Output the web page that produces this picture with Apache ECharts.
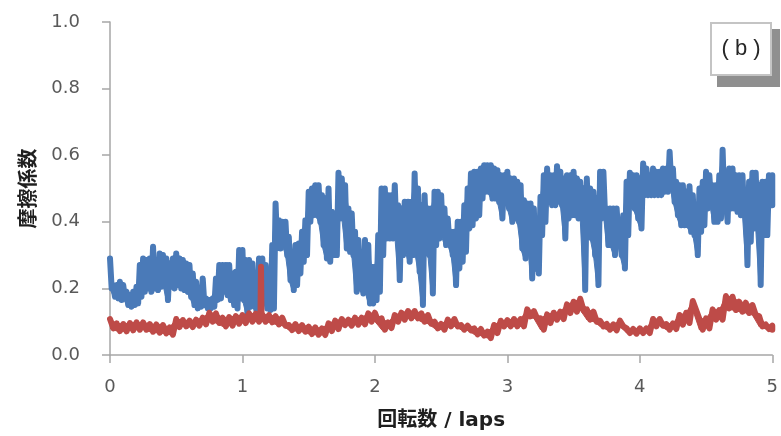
<!DOCTYPE html>
<html>
<head>
<meta charset="utf-8">
<script src="https://cdn.jsdelivr.net/npm/echarts@6/dist/echarts.min.js"></script>
<style>
html,body{margin:0;padding:0;background:#fff;}
#chart{width:781px;height:436px;}
</style>
</head>
<body>
<div id="chart"></div>
<script>
// axis ticks and texts
var xTicks = [0, 1, 2, 3, 4, 5];
var yTicks = [0.0, 0.2, 0.4, 0.6, 0.8, 1.0];
var xAxisName = '回転数 / laps';
var yAxisName = '摩擦係数';
var panelLabel = '( b )';

// blue trace: the signal oscillates fast; its upper and lower excursions
// were read every 0.025 laps (0 .. 5)
var blueStep = 0.025;
var blueUpper = [
  0.29,0.21,0.21,0.22,0.21,0.19,0.18,0.19,0.205,0.27,
  0.29,0.285,0.29,0.325,0.285,0.305,0.30,0.29,0.275,0.29,
  0.305,0.29,0.285,0.275,0.27,0.245,0.22,0.195,0.23,0.17,
  0.165,0.17,0.23,0.27,0.27,0.27,0.27,0.245,0.25,0.315,
  0.315,
  0.285,0.285,0.275,0.245,0.29,0.29,0.27,0.23,0.33,0.455,
  0.405,0.40,0.40,0.355,0.295,0.33,0.335,0.37,0.405,0.49,
  0.50,0.51,0.51,0.48,0.47,0.50,0.43,0.395,0.547,0.53,
  0.51,0.44,0.425,0.37,0.345,0.305,0.345,0.33,0.265,0.265,
  0.36,0.50,0.50,0.48,0.48,0.51,0.45,0.44,0.46,0.46,
  0.46,0.545,0.50,0.45,0.48,0.44,0.44,0.49,0.49,0.48,
  0.44,0.41,0.37,0.37,0.40,0.40,0.45,0.50,0.545,0.55,
  0.55,0.56,0.57,0.57,0.57,0.56,0.555,0.54,0.54,0.55,
  0.53,0.53,0.52,0.51,0.465,0.455,0.455,0.44,0.395,0.475,
  0.54,0.56,0.54,0.54,0.567,0.55,0.53,0.54,0.54,0.55,
  0.53,0.52,0.50,0.53,0.50,0.49,0.47,0.55,0.55,0.44,
  0.44,0.44,0.44,0.395,0.42,0.52,0.547,0.54,0.54,0.53,
  0.575,0.56,0.54,0.56,0.55,0.55,0.56,0.56,0.61,0.56,
  0.52,0.51,0.51,0.49,0.507,0.48,0.44,0.50,0.52,0.55,
  0.54,0.51,0.51,0.54,0.616,0.52,0.56,0.56,0.54,0.54,
  0.54,0.49,0.52,0.547,0.547,0.51,0.52,0.52,0.54,0.54
];
var blueLower = [
  0.20,0.175,0.17,0.165,0.17,0.15,0.145,0.15,0.155,0.175,
  0.19,0.20,0.19,0.20,0.195,0.205,0.21,0.165,0.205,0.20,
  0.21,0.20,0.195,0.19,0.175,0.15,0.14,0.145,0.15,0.14,
  0.14,0.145,0.165,0.17,0.19,0.18,0.165,0.15,0.14,0.17,
  0.165,
  0.125,0.145,0.155,0.11,0.12,0.17,0.14,0.135,0.14,0.32,
  0.32,0.33,0.30,0.225,0.195,0.21,0.245,0.28,0.30,0.40,
  0.42,0.42,0.40,0.33,0.29,0.28,0.30,0.30,0.41,0.41,
  0.32,0.31,0.30,0.19,0.20,0.185,0.19,0.155,0.155,0.165,
  0.19,0.30,0.35,0.35,0.35,0.36,0.225,0.30,0.32,0.28,
  0.30,0.31,0.25,0.15,0.34,0.30,0.185,0.33,0.35,0.36,
  0.33,0.33,0.30,0.21,0.26,0.28,0.31,0.38,0.39,0.41,
  0.42,0.47,0.49,0.49,0.47,0.47,0.46,0.41,0.46,0.44,
  0.40,0.41,0.40,0.32,0.29,0.35,0.23,0.26,0.245,0.36,
  0.40,0.46,0.45,0.45,0.46,0.45,0.35,0.41,0.42,0.42,
  0.41,0.41,0.195,0.36,0.35,0.30,0.21,0.41,0.42,0.33,
  0.33,0.30,0.36,0.30,0.26,0.36,0.45,0.44,0.41,0.38,
  0.48,0.48,0.48,0.48,0.48,0.48,0.49,0.49,0.51,0.46,
  0.42,0.39,0.39,0.39,0.37,0.36,0.30,0.37,0.39,0.44,
  0.46,0.40,0.40,0.41,0.46,0.40,0.44,0.44,0.43,0.42,
  0.42,0.27,0.34,0.38,0.38,0.21,0.36,0.36,0.45,0.45
];

// red trace: upper and lower excursions read every 0.05 laps (0 .. 5)
var redStep = 0.05;
var redUpper = [
  0.108,0.095,0.093,0.096,0.098,0.098,0.093,0.092,0.090,0.083,
  0.108,0.105,0.103,0.106,0.112,0.127,0.125,0.112,0.114,0.117,
  0.120,0.125,0.124,0.122,0.120,0.117,0.112,0.090,0.093,0.090,
  0.085,0.083,0.080,0.095,0.103,0.108,0.106,0.112,0.112,0.125,
  0.127,0.110,0.098,0.120,0.127,0.132,0.132,0.125,0.120,0.100,
  0.093,0.106,0.108,0.090,0.088,0.080,0.078,0.070,0.090,0.103,
  0.105,0.108,0.108,0.137,0.132,0.110,0.122,0.127,0.130,0.152,
  0.160,0.169,0.137,0.130,0.103,0.093,0.092,0.103,0.080,0.078,
  0.080,0.080,0.108,0.108,0.093,0.095,0.120,0.127,0.162,0.108,
  0.110,0.137,0.135,0.177,0.175,0.160,0.157,0.150,0.117,0.092,
  0.088
];
var redLower = [
  0.080,0.072,0.071,0.074,0.076,0.076,0.070,0.067,0.065,0.061,
  0.084,0.086,0.084,0.088,0.092,0.100,0.096,0.086,0.088,0.094,
  0.096,0.100,0.100,0.100,0.098,0.092,0.088,0.075,0.072,0.070,
  0.063,0.061,0.060,0.072,0.078,0.090,0.088,0.091,0.092,0.100,
  0.101,0.076,0.081,0.100,0.106,0.110,0.110,0.100,0.094,0.080,
  0.076,0.086,0.086,0.076,0.074,0.062,0.058,0.051,0.066,0.086,
  0.086,0.086,0.086,0.116,0.110,0.076,0.096,0.106,0.108,0.126,
  0.130,0.135,0.106,0.100,0.086,0.076,0.074,0.086,0.066,0.064,
  0.066,0.066,0.086,0.088,0.076,0.078,0.091,0.096,0.135,0.076,
  0.080,0.106,0.106,0.140,0.135,0.130,0.126,0.120,0.086,0.078,
  0.076
];
// one narrow red spike near 1.14 laps: [laps, value]
var redSpike = [[1.136, 0.115], [1.140, 0.265], [1.144, 0.115]];

// interleave the read excursions into one oscillating trace
function trace(upper, lower, step) {
  var pts = [];
  for (var i = 0; i < upper.length; i++) {
    var x = i * step;
    pts.push([x, upper[i]]);
    if (i < upper.length - 1) pts.push([x + step / 2, lower[i]]);
    else pts.push([x, lower[i]]);
  }
  return pts;
}
// band segments between consecutive readings: [x0, lo0, up0, x1, lo1, up1]
function bandSegments(upper, lower, step) {
  var segs = [];
  for (var i = 0; i < upper.length - 1; i++) {
    segs.push([i * step, lower[i], upper[i], (i + 1) * step, lower[i + 1], upper[i + 1]]);
  }
  return segs;
}
var blueData = trace(blueUpper, blueLower, blueStep);
var redData = trace(redUpper, redLower, redStep).concat(redSpike)
  .sort(function (a, b) { return a[0] - b[0]; });

var BLUE = '#4a7ab8', RED = '#be4b48';

function bandSeries(segs, color, z) {
  return {
    type: 'custom', data: segs, z: z, silent: true, clip: true,
    encode: {x: [0, 3], y: [1, 2, 4, 5]},
    renderItem: function (params, api) {
      var a = api.coord([api.value(0), api.value(1)]);
      var b = api.coord([api.value(0), api.value(2)]);
      var c = api.coord([api.value(3), api.value(5)]);
      var d = api.coord([api.value(3), api.value(4)]);
      return {type: 'polygon', shape: {points: [a, b, c, d]},
              style: {fill: color, stroke: color, lineWidth: 1}};
    }
  };
}

var chart = echarts.init(document.getElementById('chart'), null, {renderer: 'canvas'});
var axisGray = '#a6a6a6';
var textGray = '#595959';
var tickFont = '"DejaVu Sans", "Liberation Sans", sans-serif';
chart.setOption({
  animation: false,
  backgroundColor: '#ffffff',
  grid: {left: 110, right: 4, top: 22, bottom: 77, containLabel: false},
  xAxis: {
    type: 'value',
    min: xTicks[0], max: xTicks[xTicks.length - 1], interval: 1,
    name: xAxisName, nameLocation: 'middle', nameGap: 56,
    nameTextStyle: {fontFamily: '"DejaVu Sans", "Noto Sans CJK JP", sans-serif', fontWeight: 'bold', fontSize: 20, color: '#1f1f1f'},
    axisLine: {lineStyle: {color: axisGray, width: 1.5}},
    axisTick: {show: true, inside: false, length: 8, lineStyle: {color: axisGray, width: 1.5}},
    axisLabel: {margin: 23, fontFamily: tickFont, fontSize: 18, color: textGray},
    splitLine: {show: false}
  },
  yAxis: {
    type: 'value',
    min: yTicks[0], max: yTicks[yTicks.length - 1], interval: 0.2,
    name: yAxisName, nameLocation: 'middle', nameGap: 73, nameRotate: 90,
    nameTextStyle: {fontFamily: '"Noto Sans CJK JP", sans-serif', fontWeight: 'bold', fontSize: 20, color: '#1f1f1f'},
    axisLine: {show: true, lineStyle: {color: axisGray, width: 1.5}},
    axisTick: {show: true, inside: false, length: 8, lineStyle: {color: axisGray, width: 1.5}},
    axisLabel: {margin: 30, fontFamily: tickFont, fontSize: 18, color: textGray,
      formatter: function (v) { return v.toFixed(1); }},
    splitLine: {show: false}
  },
  series: [
    bandSeries(bandSegments(blueUpper, blueLower, blueStep), BLUE, 1),
    {type: 'line', data: blueData, showSymbol: false, symbol: 'none', clip: true,
     lineStyle: {color: BLUE, width: 6, join: 'round', cap: 'round'}, z: 2},
    bandSeries(bandSegments(redUpper, redLower, redStep), RED, 3),
    {type: 'line', data: redData, showSymbol: false, symbol: 'none', clip: true,
     lineStyle: {color: RED, width: 6, join: 'round', cap: 'round'}, z: 4}
  ],
  graphic: [
    {type: 'rect', shape: {x: 717, y: 29, width: 63, height: 58}, style: {fill: '#8f8f8f'}, z: 10},
    {type: 'rect', shape: {x: 711, y: 23, width: 60, height: 52}, style: {fill: '#ffffff', stroke: '#c4c4c4', lineWidth: 2}, z: 11},
    {type: 'text', x: 741, y: 49, style: {text: panelLabel, fill: '#262626', fontSize: 22,
      fontFamily: '"Liberation Sans", Arial, sans-serif', textAlign: 'center', textVerticalAlign: 'middle'}, z: 12}
  ]
});
</script>
</body>
</html>
